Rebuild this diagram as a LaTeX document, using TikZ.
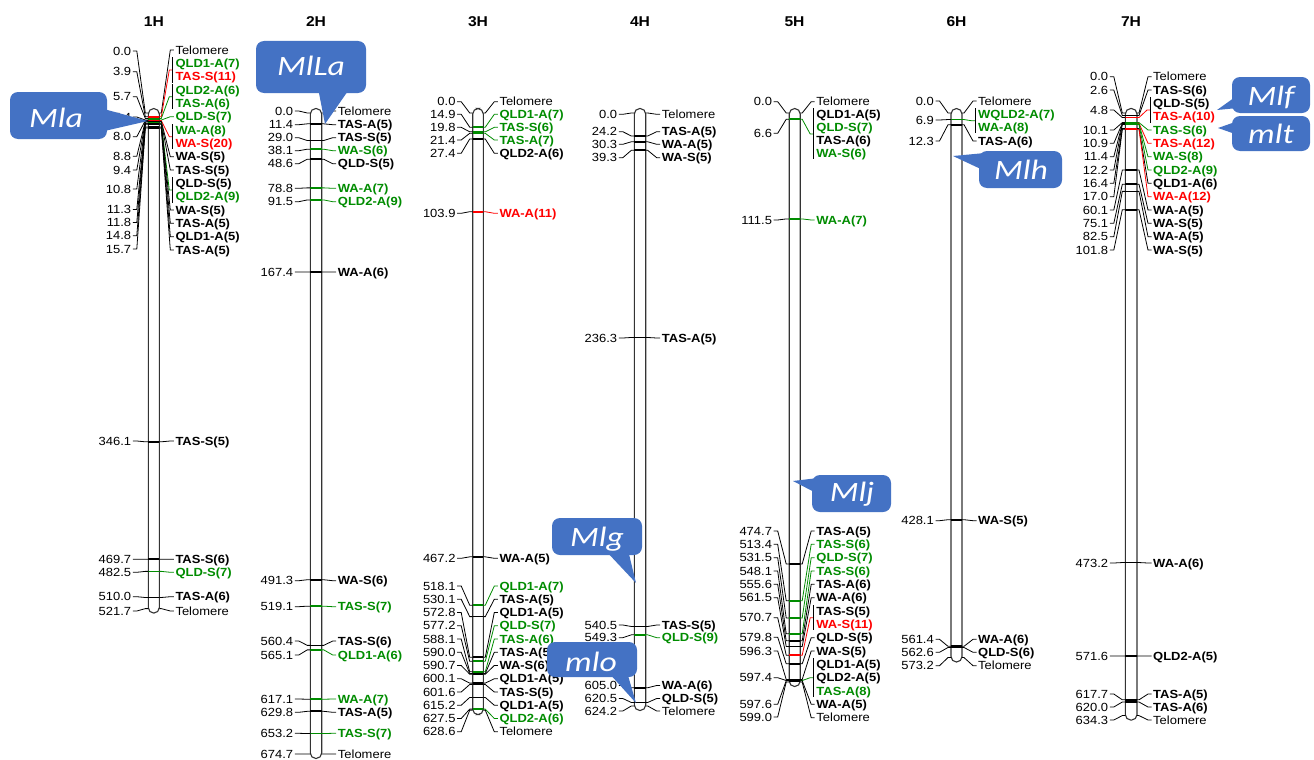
\documentclass[tikz,border=0pt]{standalone}
\usepackage{fontspec}
\setmainfont{Liberation Sans}
\newfontfamily\labf[FakeStretch=1.1]{Liberation Sans}
\newfontfamily\callf[FakeStretch=1.2]{Carlito}
\definecolor{mgreen}{RGB}{0,140,0}
\definecolor{mred}{RGB}{255,0,0}
\definecolor{cblue}{RGB}{68,114,196}
\newcounter{mkc}
\newcounter{rlc}
\newcommand\setchrom[2]{\def\cL{#1}\def\cR{#2}}
\newcommand\chromo[3]{\draw[chromst] (#1,108.5) rectangle (#2,{113+0.95*#3+4.5});}
\newcommand\mkA[5]{%
 \stepcounter{mkc}\edef\mkn{\arabic{mkc}}%
 \pgfmathsetmacro\by{113+0.95*#1}%
 \coordinate (b\mkn) at (\cL,\by);
 \coordinate (c\mkn) at (\cR,\by);
 \node[numlab] (n\mkn) at (\cL-17,#2) {#1};
 \node[mlab,text=#4] (m\mkn) at (\cR+16,#3) {#5};
 \draw[band,draw=#4] (b\mkn) -- (c\mkn);
 \draw[conn] (n\mkn.east) ++(1.5,0) -- ++(4,0) -- ([xshift=-3pt]b\mkn) -- (b\mkn);
 \draw[conn,draw=#4] (c\mkn) -- ([xshift=2pt]c\mkn) -- ([xshift=-5pt]m\mkn.west) -- ([xshift=-1.5pt]m\mkn.west);
}
\newcommand\telo[3]{%
 \stepcounter{mkc}\edef\mkn{\arabic{mkc}}%
 \pgfmathsetmacro\by{113+0.95*#1}%
 \coordinate (b\mkn) at (\cL,\by);
 \coordinate (c\mkn) at (\cR,\by);
 \node[numlab] (n\mkn) at (\cL-17,#2) {#1};
 \node[tlab] (m\mkn) at (\cR+16,#3) {Telomere};
 \draw[conn] (n\mkn.east) ++(1.5,0) -- ++(4,0) -- ([xshift=-3pt]b\mkn) -- (b\mkn);
 \draw[conn] (c\mkn) -- ([xshift=2pt]c\mkn) -- ([xshift=-5pt]m\mkn.west) -- ([xshift=-1.5pt]m\mkn.west);
}
\newcommand\mkB[6]{%
 \stepcounter{mkc}\edef\mkn{\arabic{mkc}}%
 \pgfmathsetmacro\by{113+0.95*#1}%
 \coordinate (b\mkn) at (\cL,\by);
 \coordinate (c\mkn) at (\cR,\by);
 \node[numlab] (n\mkn) at (\cL-17,#2) {#1};
 \coordinate (k\mkn) at (\cR+13,#3);
 \coordinate (kt\mkn) at (\cR+13,#5-6);
 \coordinate (kb\mkn) at (\cR+13,#6+6);
 \draw[band,draw=#4] (b\mkn) -- (c\mkn);
 \draw[conn] (n\mkn.east) ++(1.5,0) -- ++(4,0) -- ([xshift=-3pt]b\mkn) -- (b\mkn);
 \draw[conn,draw=#4] (c\mkn) -- ([xshift=2pt]c\mkn) -- ([xshift=-3pt]k\mkn) -- (k\mkn);
 \draw[conn] (kt\mkn) -- (kb\mkn);
}
\newcommand\rlab[3]{\stepcounter{rlc}\node[mlab,text=#2] (r\arabic{rlc}) at (\cR+16,#1) {#3};}
\begin{document}
\begin{tikzpicture}[x=1pt,y=-1pt,
 numlab/.style={font=\labf\fontsize{11.8}{12}\selectfont,inner sep=0pt,anchor=east,text height=8.3pt,text depth=0pt},
 mlab/.style={font=\labf\bfseries\fontsize{11.8}{12}\selectfont,inner sep=0pt,anchor=west,text height=8.3pt,text depth=0pt},
 tlab/.style={font=\labf\fontsize{11.8}{12}\selectfont,inner sep=0pt,anchor=west,text height=8.3pt,text depth=0pt},
 conn/.style={line width=0.8pt},
 band/.style={line width=1.7pt},
 chromst/.style={draw=black!80,line width=1.1pt,fill=white,rounded corners=5.5pt},
 ttl/.style={font=\labf\bfseries\fontsize{14.2}{16}\selectfont,inner sep=0pt},
 cbox/.style={fill=cblue,rounded corners=8pt},
 cptr/.style={fill=cblue},
 ctext/.style={text=white,font=\callf\itshape\fontsize{28}{30}\selectfont,inner sep=0pt,text height=18pt,text depth=0pt}]
\useasboundingbox (0,0) rectangle (1314,760);
\fill[white] (0,0) rectangle (1314,760);
% titles
\node[ttl] (t1) at (153.8,22) {1H};
\node[ttl] (t2) at (316,22) {2H};
\node[ttl] (t3) at (478,22) {3H};
\node[ttl] (t4) at (640,22) {4H};
\node[ttl] (t5) at (794.5,22) {5H};
\node[ttl] (t6) at (956.5,22) {6H};
\node[ttl] (t7) at (1131,22) {7H};
% ---------------- 1H
\setchrom{148.3}{159.3}
\chromo{148.3}{159.3}{521.7}
\telo{0.0}{51}{50}
\mkB{3.9}{71.7}{70}{mred}{63.3}{76.7}
\rlab{63.3}{mgreen}{QLD1-A(7)}
\rlab{76.7}{mred}{TAS-S(11)}
\mkB{5.7}{96.7}{96.7}{mgreen}{90}{103.3}
\rlab{90}{mgreen}{QLD2-A(6)}
\rlab{103.3}{mgreen}{TAS-A(6)}
\mkA{7.4}{117}{116.7}{mgreen}{QLD-S(7)}
\mkB{8.0}{136.7}{136.7}{mred}{130}{143.3}
\rlab{130}{mgreen}{WA-A(8)}
\rlab{143.3}{mred}{WA-S(20)}
\mkA{8.8}{156.3}{156.7}{black}{WA-S(5)}
\mkA{9.4}{170}{170}{black}{TAS-S(5)}
\mkB{10.8}{189}{190}{mgreen}{183.3}{196.7}
\rlab{183.3}{black}{QLD-S(5)}
\rlab{196.7}{mgreen}{QLD2-A(9)}
\mkA{11.3}{209.5}{210}{black}{WA-S(5)}
\mkA{11.8}{222.5}{223.3}{black}{TAS-A(5)}
\mkA{14.8}{235.7}{236.7}{black}{QLD1-A(5)}
\mkA{15.7}{249}{250}{black}{TAS-A(5)}
\mkA{346.1}{441}{441}{black}{TAS-S(5)}
\mkA{469.7}{559.3}{559.3}{black}{TAS-S(6)}
\mkA{482.5}{572.3}{572.3}{mgreen}{QLD-S(7)}
\mkA{510.0}{596.7}{596.7}{black}{TAS-A(6)}
\telo{521.7}{611}{611}
% ---------------- 2H
\setchrom{310.3}{321.7}
\chromo{310.3}{321.7}{674.7}
\telo{0.0}{111}{111}
\mkA{11.4}{124.7}{124.7}{black}{TAS-A(5)}
\mkA{29.0}{137.7}{137.7}{black}{TAS-S(5)}
\mkA{38.1}{150.7}{150.7}{mgreen}{WA-S(6)}
\mkA{48.6}{163.7}{163.7}{black}{QLD-S(5)}
\mkA{78.8}{188.3}{188.3}{mgreen}{WA-A(7)}
\mkA{91.5}{201.7}{201.7}{mgreen}{QLD2-A(9)}
\mkA{167.4}{272}{272}{black}{WA-A(6)}
\mkA{491.3}{580.7}{580.7}{black}{WA-S(6)}
\mkA{519.1}{606.7}{606.7}{mgreen}{TAS-S(7)}
\mkA{560.4}{641}{641}{black}{TAS-S(6)}
\mkA{565.1}{655}{655}{mgreen}{QLD1-A(6)}
\mkA{617.1}{699}{699}{mgreen}{WA-A(7)}
\mkA{629.8}{712.3}{712.3}{black}{TAS-A(5)}
\mkA{653.2}{733.3}{733.3}{mgreen}{TAS-S(7)}
\telo{674.7}{754}{754}
% ---------------- 3H
\setchrom{472.7}{483.3}
\chromo{472.7}{483.3}{628.6}
\telo{0.0}{101.7}{101.7}
\mkA{14.9}{114.3}{114.3}{mgreen}{QLD1-A(7)}
\mkA{19.8}{127.3}{127.3}{mgreen}{TAS-S(6)}
\mkA{21.4}{140}{140}{mgreen}{TAS-A(7)}
\mkA{27.4}{153.3}{153.3}{black}{QLD2-A(6)}
\mkA{103.9}{213.3}{213.3}{mred}{WA-A(11)}
\mkA{467.2}{558.3}{558.3}{black}{WA-A(5)}
\mkA{518.1}{586}{586}{mgreen}{QLD1-A(7)}
\mkA{530.1}{599.25}{599.25}{black}{TAS-A(5)}
\mkA{572.8}{612.5}{612.5}{black}{QLD1-A(5)}
\mkA{577.2}{625.75}{625.75}{mgreen}{QLD-S(7)}
\mkA{588.1}{639}{639}{mgreen}{TAS-A(6)}
\mkA{590.0}{652.25}{652.25}{black}{TAS-A(5)}
\mkA{590.7}{665.5}{665.5}{black}{WA-S(6)}
\mkA{600.1}{678.75}{678.75}{black}{QLD1-A(5)}
\mkA{601.6}{692}{692}{black}{TAS-S(5)}
\mkA{615.2}{705.25}{705.25}{black}{QLD1-A(5)}
\mkA{627.5}{718.5}{718.5}{mgreen}{QLD2-A(6)}
\telo{628.6}{731.75}{731.75}
% ---------------- 4H
\setchrom{634.3}{645.7}
\chromo{634.3}{645.7}{624.2}
\telo{0.0}{114.3}{114.3}
\mkA{24.2}{131.7}{131.7}{black}{TAS-A(5)}
\mkA{30.3}{144.3}{144.3}{black}{WA-A(5)}
\mkA{39.3}{157.7}{157.7}{black}{WA-S(5)}
\mkA{236.3}{338}{338}{black}{TAS-A(5)}
\mkA{540.5}{625}{625}{black}{TAS-S(5)}
\mkA{549.3}{637.7}{637.7}{mgreen}{QLD-S(9)}
\mkA{605.0}{685.5}{685.5}{black}{WA-A(6)}
\mkA{620.5}{698.5}{698.5}{black}{QLD-S(5)}
\telo{624.2}{711}{711}
% ---------------- 5H
\setchrom{789.2}{800.2}
\chromo{789.2}{800.2}{599.0}
\telo{0.0}{101.7}{101.7}
\mkB{6.6}{133.3}{134}{mgreen}{114.3}{153.3}
\rlab{114.3}{black}{QLD1-A(5)}
\rlab{127.3}{mgreen}{QLD-S(7)}
\rlab{140.7}{black}{TAS-A(6)}
\rlab{153.3}{mgreen}{WA-S(6)}
\mkA{111.5}{220}{220}{mgreen}{WA-A(7)}
\mkA{474.7}{531}{531}{black}{TAS-A(5)}
\mkA{513.4}{544.3}{544.3}{mgreen}{TAS-S(6)}
\mkA{531.5}{557.7}{557.7}{mgreen}{QLD-S(7)}
\mkA{548.1}{571}{571}{mgreen}{TAS-S(6)}
\mkA{555.6}{584.3}{584.3}{black}{TAS-A(6)}
\mkA{561.5}{597.7}{597.7}{black}{WA-A(6)}
\mkB{570.7}{617.7}{617.7}{mred}{611}{624.3}
\rlab{611}{black}{TAS-S(5)}
\rlab{624.3}{mred}{WA-S(11)}
\mkA{579.8}{637.2}{637.7}{black}{QLD-S(5)}
\mkA{596.3}{651}{651}{black}{WA-S(5)}
\mkB{597.4}{677.7}{677.7}{mgreen}{664.3}{691}
\rlab{664.3}{black}{QLD1-A(5)}
\rlab{677.7}{black}{QLD2-A(5)}
\rlab{691}{mgreen}{TAS-A(8)}
\mkA{597.6}{704.3}{704.3}{black}{WA-A(5)}
\telo{599.0}{717}{717.7}
% ---------------- 6H
\setchrom{951}{962}
\chromo{951}{962}{573.2}
\telo{0.0}{101}{101}
\mkB{6.9}{120}{120.8}{mgreen}{114.3}{127.3}
\rlab{114.3}{mgreen}{WQLD2-A(7)}
\rlab{127.3}{mgreen}{WA-A(8)}
\mkA{12.3}{141}{141}{black}{TAS-A(6)}
\mkA{428.1}{520.7}{520.7}{black}{WA-S(5)}
\mkA{561.4}{639.3}{639.3}{black}{WA-A(6)}
\mkA{562.6}{652.3}{652.3}{black}{QLD-S(6)}
\telo{573.2}{665.7}{665.7}
% ---------------- 7H
\setchrom{1125.3}{1137}
\chromo{1125.3}{1137}{634.3}
\telo{0.0}{76.7}{76.7}
\mkA{2.6}{90}{90}{black}{TAS-S(6)}
\mkB{4.8}{110}{110}{mred}{103.3}{116.7}
\rlab{103.3}{black}{QLD-S(5)}
\rlab{116.7}{mred}{TAS-A(10)}
\mkA{10.1}{130}{130}{mgreen}{TAS-S(6)}
\mkA{10.9}{143.3}{143.3}{mred}{TAS-A(12)}
\mkA{11.4}{156.7}{156.7}{mgreen}{WA-S(8)}
\mkA{12.2}{170}{170}{mgreen}{QLD2-A(9)}
\mkA{16.4}{183.3}{183.3}{black}{QLD1-A(6)}
\mkA{17.0}{196.7}{196.7}{mred}{WA-A(12)}
\mkA{60.1}{210}{210}{black}{WA-A(5)}
\mkA{75.1}{223.3}{223.3}{black}{WA-S(5)}
\mkA{82.5}{236.7}{236.7}{black}{WA-A(5)}
\mkA{101.8}{250}{250}{black}{WA-S(5)}
\mkA{473.2}{563}{563}{black}{WA-A(6)}
\mkA{571.6}{656}{656}{black}{QLD2-A(5)}
\mkA{617.7}{694}{694}{black}{TAS-A(5)}
\mkA{620.0}{707}{707}{black}{TAS-A(6)}
\telo{634.3}{720}{720}
% ---------------- callouts
\fill[cbox] (10,92) rectangle (107,139);
\fill[cptr] (100,108) -- (148,121) -- (100,132) -- cycle;
\node[ctext] (cMla) at (56,118) {Mla};
\fill[cbox] (256,41) rectangle (366,93);
\fill[cptr] (318,88) -- (325,124) -- (350,88) -- cycle;
\node[ctext] (cMlLa) at (311,67) {MlLa};
\fill[cbox] (552,518) rectangle (642,555);
\fill[cptr] (605,550) -- (636,583) -- (628,550) -- cycle;
\node[ctext] (cMlg) at (597,537) {Mlg};
\fill[cbox] (547,642) rectangle (637,677);
\fill[cptr] (608,672) -- (636,703) -- (627,672) -- cycle;
\node[ctext] (cmlo) at (591,662) {mlo};
\fill[cbox] (812,475) rectangle (891,512);
\fill[cptr] (818,478) -- (793,481) -- (818,494) -- cycle;
\node[ctext] (cMlj) at (852,492) {Mlj};
\fill[cbox] (979,151) rectangle (1062,188);
\fill[cptr] (985,153) -- (953,156) -- (985,171) -- cycle;
\node[ctext] (cMlh) at (1021,170) {Mlh};
\fill[cbox] (1232,77) rectangle (1310,113);
\fill[cptr] (1238,95) -- (1217,110) -- (1238,108) -- cycle;
\node[ctext] (cMlf) at (1271,96) {Mlf};
\fill[cbox] (1232,116) rectangle (1310,151);
\fill[cptr] (1238,121) -- (1218,128) -- (1238,135) -- cycle;
\node[ctext] (cmlt) at (1271,134) {mlt};
\end{tikzpicture}
\end{document}
